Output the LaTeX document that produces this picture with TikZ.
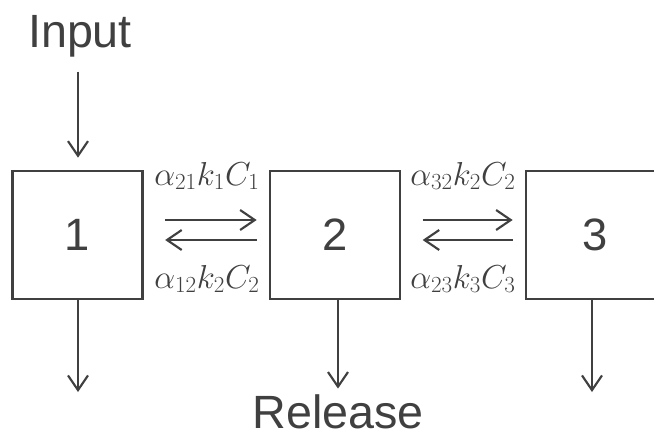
\documentclass[tikz,border=0pt]{standalone}
\usepackage[no-math]{fontspec}
\setmainfont{Liberation Sans}
\usetikzlibrary{arrows.meta,calc}
\definecolor{ink}{HTML}{404040}
\begin{document}
\begin{tikzpicture}[x=0.75pt,y=-0.75pt,
  box/.style={draw=ink,line width=2pt,minimum height=96pt,inner sep=0pt,font=\fontsize{34}{34}\selectfont,text=ink},
  big/.style={font=\fontsize{35}{35}\selectfont,text=ink,inner sep=0pt},
  rate/.style={font=\fontsize{27}{27}\selectfont,text=ink,inner sep=0pt,anchor=base},
  arr/.style={draw=ink,line width=1.6pt,-{Straight Barb[length=11pt,width=15pt,line width=1.6pt]}}]
\clip (0,0) rectangle (654,437);
\fill[white] (0,0) rectangle (654,437);
\node[box,minimum width=97.5pt] (b1) at (77.5,235) {1};
\node[box,minimum width=97.5pt] (b2) at (335,235) {2};
\node[box,minimum width=103.5pt] (b3) at (595,235) {3};
\node[big,anchor=base] (in) at (80,47) {Input};
\node[big,anchor=base] (rel) at (338,428) {Release};
\coordinate (o1) at (78,392);
\coordinate (o3) at (592,392);
% input / release arrows
\draw[arr,shorten <=11pt,shorten >=9pt] (in.south -| 78,0) -- (b1.north -| 78,0);
\draw[arr] (b1.south -| 78,0) -- (o1);
\draw[arr,shorten >=4pt] (b2.south -| 338,0) -- (rel.north -| 338,0);
\draw[arr] (b3.south -| 592,0) -- (o3);
% exchange arrows
\draw[arr,shorten <=16pt,shorten >=9pt] ($(b1.east)+(0,-15)$) -- ($(b2.west)+(0,-15)$);
\draw[arr,shorten <=9pt,shorten >=16pt] ($(b2.west)+(0,5)$) -- ($(b1.east)+(0,5)$);
\draw[arr,shorten <=16pt,shorten >=9pt] ($(b2.east)+(0,-15)$) -- ($(b3.west)+(0,-15)$);
\draw[arr,shorten <=9pt,shorten >=16pt] ($(b3.west)+(0,5)$) -- ($(b2.east)+(0,5)$);
% rate labels
\node[rate] (r21) at (207,185) {$\alpha_{21}k_1C_1$};
\node[rate] (r12) at (207,288) {$\alpha_{12}k_2C_2$};
\node[rate] (r32) at (463,185) {$\alpha_{32}k_2C_2$};
\node[rate] (r23) at (463,288) {$\alpha_{23}k_3C_3$};
\end{tikzpicture}
\end{document}
